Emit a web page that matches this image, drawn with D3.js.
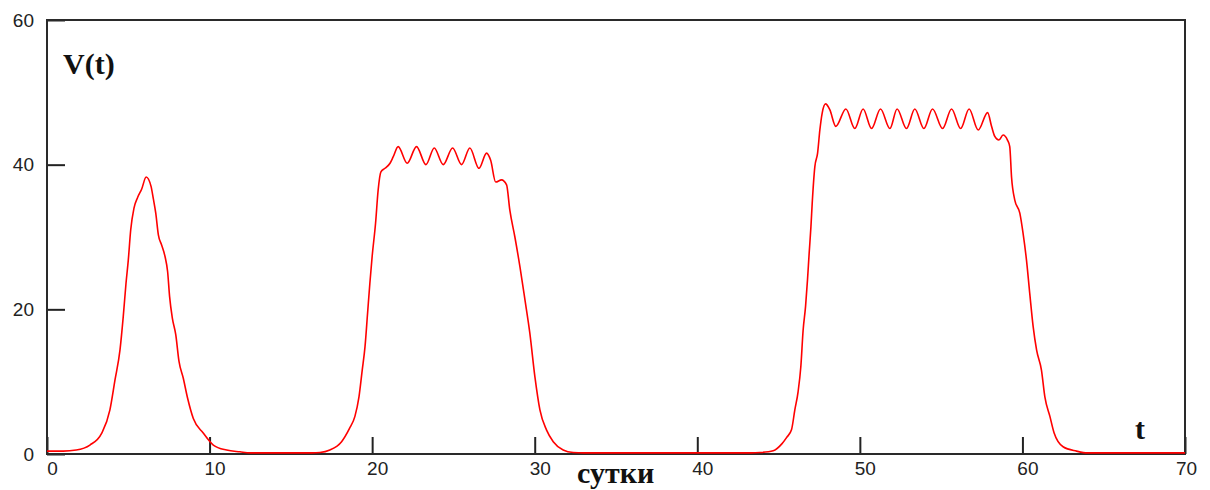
<!DOCTYPE html>
<html>
<head>
<meta charset="utf-8">
<script src="https://cdn.jsdelivr.net/npm/d3@7"></script>
<style>
  html, body { margin: 0; padding: 0; background: #fff; }
  svg { display: block; }
</style>
</head>
<body>
<svg id="chart" width="1210" height="490"></svg>
<script>
// ---- data ----
const days = [
  0, 1.0, 1.8, 2.64, 3.36, 3.87, 4.18, 4.49, 4.69, 4.86, 5.0, 5.15, 5.35, 5.58, 5.82,
  6.1, 6.4, 6.54, 6.69, 6.85, 7.05, 7.26, 7.42, 7.54, 7.71, 7.92, 8.12, 8.38, 8.65, 9.0,
  9.61, 10.23, 11.05, 11.87, 12.5,
  16.3, 16.79, 17.4, 18.12, 18.6, 18.94, 19.19, 19.39, 19.56, 19.72, 19.86, 20.0, 20.21, 20.37, 20.54,
  20.79, 21.1, 21.3, 21.6, 22.16, 22.73, 23.31, 23.82, 24.37, 24.95, 25.5, 26.01, 26.57, 27.04, 27.29,
  27.6, 27.96, 28.27, 28.47, 28.78, 29.09, 29.4, 29.7, 30.01, 30.32, 30.73, 31.14, 31.75, 32.37, 33.0,
  43.3, 43.85, 44.67, 45.2, 45.5, 45.8, 46.0, 46.2, 46.37, 46.51, 46.66, 46.78, 46.88, 46.99, 47.07,
  47.23, 47.4, 47.54, 47.68, 47.89, 48.15, 48.52, 49.14, 49.69, 50.2, 50.72, 51.27, 51.85, 52.29, 52.87,
  53.38, 53.94, 54.47, 55.09, 55.64, 56.2, 56.72, 57.28, 57.86, 58.1, 58.3, 58.55, 58.81, 59.08, 59.22,
  59.33, 59.53, 59.84, 60.04, 60.25, 60.45, 60.66, 60.87, 61.17, 61.38, 61.69, 61.95, 62.5, 63.33, 64.0,
  70
];
const volume = [
  0.4, 0.4, 0.55, 1.24, 2.86, 6.1, 10.2, 14.4, 19.0, 23.6, 26.8, 31.0, 34.0, 35.5, 36.6,
  38.3, 37.0, 35.3, 33.3, 30.3, 28.9, 27.3, 25.2, 21.8, 18.8, 16.5, 12.8, 10.5, 7.7, 4.9,
  2.9, 1.24, 0.55, 0.3, 0.15,
  0.15, 0.2, 0.55, 1.7, 3.5, 5.2, 7.9, 11.6, 14.8, 19.5, 23.6, 27.3, 31.9, 36.5, 39.0,
  39.5, 40.2, 41.1, 42.5, 40.2, 42.5, 40.0, 42.3, 40.0, 42.3, 40.0, 42.3, 39.5, 41.6, 40.6,
  37.6, 37.9, 37.2, 33.7, 30.0, 25.9, 21.3, 16.7, 10.7, 6.1, 3.3, 1.7, 0.55, 0.2, 0.15,
  0.15, 0.2, 0.45, 1.4, 2.3, 3.4, 6.1, 8.6, 12.1, 17.1, 20.4, 24.1, 27.7, 31.4, 34.7,
  39.7, 41.6, 44.8, 47.1, 48.4, 47.6, 45.3, 47.7, 45.0, 47.7, 45.0, 47.7, 45.0, 47.7, 45.0,
  47.7, 45.0, 47.7, 45.0, 47.7, 45.0, 47.7, 44.8, 47.2, 45.3, 43.9, 43.4, 44.1, 43.4, 42.5,
  38.3, 35.1, 33.3, 30.5, 26.8, 22.2, 17.6, 14.4, 11.6, 7.9, 5.2, 2.9, 1.0, 0.4, 0.15,
  0.15
];
const xTicks = [0, 10, 20, 30, 40, 50, 60, 70];
const yTicks = [0, 20, 40, 60];
const yTitle = "V(t)";
const xTitle = "t";
const unitLabel = "сутки";

// ---- drawing ----
const svg = d3.select("#chart");
const x = d3.scaleLinear().domain([0, 70]).range([47, 1185]);
const y = d3.scaleLinear().domain([0, 60]).range([454, 20]);

const labelFont = "'Liberation Sans', Arial, sans-serif";
const titleFont = "'Liberation Serif', 'Times New Roman', serif";

// x axis (ticks inward)
const xAxis = svg.append("g")
  .attr("transform", `translate(0,${y(0)})`)
  .call(d3.axisBottom(x).tickValues(xTicks).tickSize(-17).tickPadding(8).tickFormat(d3.format("d")));
xAxis.select(".domain").remove();
xAxis.selectAll(".tick line").attr("stroke", "#222").attr("stroke-width", 2);
xAxis.selectAll(".tick text")
  .attr("font-family", labelFont).attr("font-size", 19).attr("fill", "#222")
  .attr("dx", d => d === 70 ? 1 : 5);

// y axis (ticks inward)
const yAxis = svg.append("g")
  .attr("transform", `translate(${x(0)},0)`)
  .call(d3.axisLeft(y).tickValues(yTicks).tickSize(-18).tickPadding(13).tickFormat(d3.format("d")));
yAxis.select(".domain").remove();
yAxis.selectAll(".tick line").attr("stroke", "#222").attr("stroke-width", 2);
yAxis.selectAll(".tick text")
  .attr("font-family", labelFont).attr("font-size", 19).attr("fill", "#222");

// frame
svg.append("rect")
  .attr("x", x(0)).attr("y", y(60))
  .attr("width", x(70) - x(0)).attr("height", y(0) - y(60))
  .attr("fill", "none").attr("stroke", "#2a2a2a").attr("stroke-width", 2);

// curve
const pts = days.map((d, i) => [d, volume[i]]);
svg.append("path")
  .datum(pts)
  .attr("fill", "none")
  .attr("stroke", "#ff0000")
  .attr("stroke-width", 1.6)
  .attr("d", d3.line().x(d => x(d[0])).y(d => y(d[1])).curve(d3.curveMonotoneX));

// titles
svg.append("text").attr("x", 63).attr("y", 74)
  .attr("font-family", titleFont).attr("font-weight", "bold").attr("font-size", 30)
  .attr("fill", "#111").text(yTitle);
svg.append("text").attr("x", 1135).attr("y", 439)
  .attr("font-family", titleFont).attr("font-weight", "bold").attr("font-size", 30)
  .attr("fill", "#111").text(xTitle);
svg.append("text").attr("x", 577).attr("y", 483)
  .attr("font-family", titleFont).attr("font-weight", "bold").attr("font-size", 30)
  .attr("fill", "#111").text(unitLabel);
</script>
</body>
</html>
